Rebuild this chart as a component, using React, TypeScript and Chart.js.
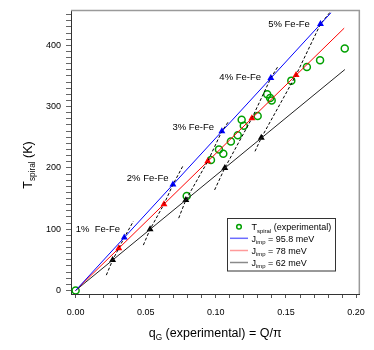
import React, { useEffect, useRef } from 'react';
import { Chart, registerables } from 'chart.js';
Chart.register(...registerables);

// Experimental spiral temperatures
const expQ = [0, 0.0792, 0.0965, 0.1053, 0.1022, 0.1107, 0.1156, 0.1199, 0.1184, 0.1298, 0.1366, 0.1387, 0.1398, 0.1538, 0.1649, 0.1743, 0.1919];
const expT = [0, 154.2, 212.8, 223.0, 229.9, 243.2, 253.4, 268.8, 278.4, 284.8, 320.3, 313.9, 309.9, 342.4, 364.8, 375.5, 394.7];

// Model lines
const lineQ958 = [0, 0.182];
const lineT958 = [0, 453];
const lineQ78 = [0, 0.1915];
const lineT78 = [0, 428];
const lineQ62 = [0, 0.192];
const lineT62 = [0, 360.5];

// Triangles (1%..5% Fe-Fe)
const triQ958 = [0.0347, 0.0694, 0.1043, 0.1392, 0.1746];
const triT958 = [86.4, 172.8, 259.8, 346.7, 434.7];
const triQ78 = [0.0308, 0.0630, 0.0942, 0.1257, 0.1572];
const triT78 = [68.8, 140.8, 210.7, 281, 351.5];
const triQ62 = [0.0264, 0.0531, 0.0786, 0.1064, 0.1324];
const triT62 = [49.6, 99.8, 147.8, 200, 249];

// Dashed constant-concentration curves
const dashQ = [
  [0.0219, 0.0264, 0.0308, 0.0347, 0.0412],
  [0.0483, 0.0531, 0.0630, 0.0694, 0.0767],
  [0.0735, 0.0786, 0.0942, 0.1043, 0.1088],
  [0.0991, 0.1064, 0.1257, 0.1392, 0.1444],
  [0.1279, 0.1324, 0.1572, 0.1746, 0.1814],
];
const dashT = [
  [25, 49.6, 68.8, 86.4, 113],
  [74, 99.8, 140.8, 172.8, 204],
  [118, 147.8, 210.7, 259.8, 275],
  [164, 200, 281, 346.7, 366],
  [227, 249, 351.5, 434.7, 454],
];

const concLabels = ['1%  Fe-Fe', '2% Fe-Fe', '3% Fe-Fe', '4% Fe-Fe', '5% Fe-Fe'];
const concLabelQ = [0.0, 0.0365, 0.069, 0.1025, 0.1373];
const concLabelT = [100, 183.5, 266.7, 347.8, 434.2];

const xTickValues = [0, 0.01, 0.02, 0.03, 0.04, 0.05, 0.06, 0.07, 0.08, 0.09, 0.1, 0.11, 0.12, 0.13, 0.14, 0.15, 0.16, 0.17, 0.18, 0.19, 0.2];
const xTickLabels = ['0.00', '', '', '', '', '0.05', '', '', '', '', '0.10', '', '', '', '', '0.15', '', '', '', '', '0.20'];
const yTickValues = [0, 10, 20, 30, 40, 50, 60, 70, 80, 90, 100, 110, 120, 130, 140, 150, 160, 170, 180, 190, 200, 210, 220, 230, 240, 250, 260, 270, 280, 290, 300, 310, 320, 330, 340, 350, 360, 370, 380, 390, 400, 410, 420, 430, 440, 450];
const yMajorLabels = [0, 100, 200, 300, 400];

const legendTexts = [
  [['T', false], ['spiral', true], [' (experimental)', false]],
  [['J', false], ['imp', true], [' = 95.8 meV', false]],
  [['J', false], ['imp', true], [' = 78 meV', false]],
  [['J', false], ['imp', true], [' = 62 meV', false]],
];

const FF = '"Liberation Sans", Arial, sans-serif';
const pts = (q: number[], t: number[]) => q.map((v, i) => ({ x: v, y: t[i] }));

function drawRich(ctx: CanvasRenderingContext2D, parts: any[], x: number, y: number, size: number, center: boolean) {
  const sub = size * 0.66;
  let w = 0;
  parts.forEach(([t, s]) => { ctx.font = `${s ? sub : size}px ${FF}`; w += ctx.measureText(t).width; });
  let cx = center ? x - w / 2 : x;
  ctx.textAlign = 'left';
  ctx.textBaseline = 'alphabetic';
  parts.forEach(([t, s]) => {
    ctx.font = `${s ? sub : size}px ${FF}`;
    ctx.fillText(t, cx, y + (s ? size * 0.28 : 0));
    cx += ctx.measureText(t).width;
  });
}

const overlay = {
  id: 'overlay',
  afterDatasetsDraw(chart: any) {
    const { ctx, chartArea: a, scales } = chart;
    const xs = scales.x, ys = scales.y;
    ctx.save();
    // frame top/right
    ctx.strokeStyle = '#9a9a9a';
    ctx.lineWidth = 1.5;
    ctx.beginPath();
    ctx.moveTo(a.left, a.top);
    ctx.lineTo(a.right, a.top);
    ctx.lineTo(a.right, a.bottom);
    ctx.stroke();

    // concentration labels
    ctx.fillStyle = '#000';
    ctx.font = `9.5px ${FF}`;
    ctx.textAlign = 'left';
    ctx.textBaseline = 'middle';
    concLabels.forEach((t, i) => {
      ctx.fillText(t, xs.getPixelForValue(concLabelQ[i]), ys.getPixelForValue(concLabelT[i]));
    });

    // legend
    const bx = 227.5, by = 218.5, bw = 108, bh = 52.5;
    ctx.fillStyle = '#fff';
    ctx.fillRect(bx, by, bw, bh);
    ctx.strokeStyle = '#333';
    ctx.lineWidth = 1;
    ctx.strokeRect(bx, by, bw, bh);
    const rowY = [226.8, 238.3, 250.5, 262.5];
    ctx.strokeStyle = '#00a000';
    ctx.lineWidth = 1.5;
    ctx.beginPath();
    ctx.arc(239, rowY[0], 2.3, 0, Math.PI * 2);
    ctx.stroke();
    const legCols = ['#6c6cff', '#ff9a9a', '#8a8a8a'];
    legCols.forEach((c, i) => {
      ctx.strokeStyle = c;
      ctx.lineWidth = 1.5;
      ctx.beginPath();
      ctx.moveTo(230, rowY[i + 1]);
      ctx.lineTo(248, rowY[i + 1]);
      ctx.stroke();
    });
    ctx.fillStyle = '#000';
    legendTexts.forEach((p, i) => drawRich(ctx, p, 251.5, rowY[i] + 3.3, 9, false));

    // axis titles
    drawRich(ctx, [['q', false], ['G', true], [' (experimental) = Q/\u03c0', false]], (a.left + a.right) / 2, 336.5, 12.5, true);
    ctx.save();
    ctx.translate(31.5, 165);
    ctx.rotate(-Math.PI / 2);
    drawRich(ctx, [['T', false], ['spiral', true], [' (K)', false]], 0, 0, 12.5, true);
    ctx.restore();
    ctx.restore();
  },
};

export default function App() {
  const ref = useRef<HTMLCanvasElement>(null);
  useEffect(() => {
    if (!ref.current) return;
    const lineDs = (q: number[], t: number[], c: string) => ({
      data: pts(q, t), showLine: true, borderColor: c, borderWidth: 1, pointRadius: 0, backgroundColor: c,
    });
    const triDs = (q: number[], t: number[], c: string) => ({
      data: pts(q, t), showLine: false, pointStyle: 'triangle', pointRadius: 4, pointRotation: 0,
      backgroundColor: c, borderColor: c, borderWidth: 0,
    });
    const chart = new Chart(ref.current, {
      type: 'scatter',
      data: {
        datasets: [
          lineDs(lineQ958, lineT958, '#0000ff'),
          lineDs(lineQ78, lineT78, '#ff0000'),
          lineDs(lineQ62, lineT62, '#222222'),
          ...dashQ.map((q, i) => ({
            data: pts(q, dashT[i]), showLine: true, borderColor: '#000', borderWidth: 1, borderDash: [3, 2], pointRadius: 0,
          })),
          triDs(triQ958, triT958, '#0000ff'),
          triDs(triQ78, triT78, '#ff0000'),
          triDs(triQ62, triT62, '#000000'),
          {
            data: pts(expQ, expT), showLine: false, pointStyle: 'circle', pointRadius: 3.5,
            borderColor: '#00a000', borderWidth: 1.5, backgroundColor: 'rgba(0,0,0,0)',
          },
        ] as any,
      },
      options: {
        animation: false,
        responsive: false,
        maintainAspectRatio: false,
        layout: { padding: { left: 0, right: 12, top: 5, bottom: 0 } },
        plugins: { legend: { display: false }, tooltip: { enabled: false } },
        scales: {
          x: {
            type: 'linear', min: -0.0033, max: 0.2023,
            afterBuildTicks: (s: any) => { s.ticks = xTickValues.map((v) => ({ value: v })); },
            afterFit: (s: any) => { s.height = 56; },
            ticks: {
              autoSkip: false, maxRotation: 0, padding: 9, color: '#000',
              font: { family: FF, size: 9 },
              callback: (_v: any, i: number) => xTickLabels[i],
            },
            grid: { drawOnChartArea: false, drawTicks: true, tickLength: 4, color: '#555' },
            border: { display: true, color: '#333', width: 1 },
          },
          y: {
            type: 'linear', min: -5.8, max: 457,
            afterBuildTicks: (s: any) => { s.ticks = yTickValues.map((v) => ({ value: v })); },
            afterFit: (s: any) => { s.width = 71; },
            ticks: {
              autoSkip: false, padding: 5, color: '#000',
              font: { family: FF, size: 9 },
              callback: (v: any) => (yMajorLabels.includes(v) ? String(v) : ''),
            },
            grid: { drawOnChartArea: false, drawTicks: true, tickLength: 5, color: '#666' },
            border: { display: true, color: '#333', width: 1 },
          },
        },
      } as any,
      plugins: [overlay],
    });
    return () => chart.destroy();
  }, []);
  return (
    <div style={{ position: 'absolute', left: 0, top: 0, width: 374, height: 350, background: '#fff' }}>
      <canvas ref={ref} width={374} height={350} style={{ width: 374, height: 350, display: 'block' }} />
    </div>
  );
}
